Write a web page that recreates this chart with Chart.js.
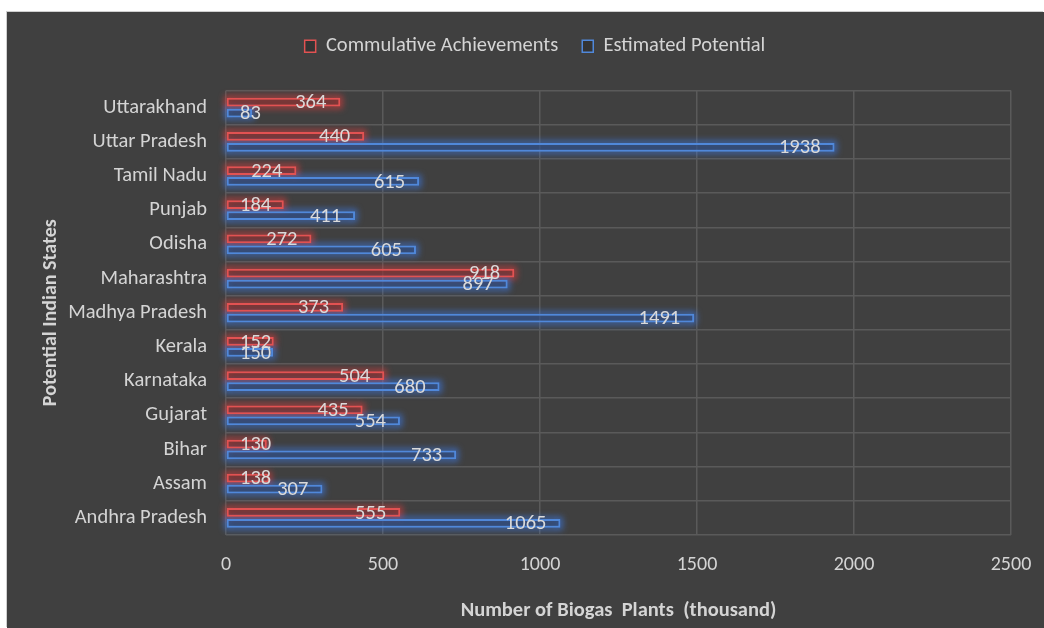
<!DOCTYPE html>
<html>
<head>
<meta charset="utf-8">
<script src="https://cdn.jsdelivr.net/npm/chart.js@4.4.1/dist/chart.umd.min.js"></script>
<style>
  html, body { margin: 0; padding: 0; background: #ffffff; }
  #panel {
    position: absolute; left: 7px; top: 12px; width: 1037px; height: 616px;
    background: #404040; box-shadow: -1px -1px 0 #cfcfcf;
  }
</style>
</head>
<body>
<div id="panel"><canvas id="myChart" width="1037" height="616"></canvas></div>
<script>
const states = ["Uttarakhand", "Uttar Pradesh", "Tamil Nadu", "Punjab", "Odisha", "Maharashtra",
  "Madhya Pradesh", "Kerala", "Karnataka", "Gujarat", "Bihar", "Assam", "Andhra Pradesh"];
const achievements = [364, 440, 224, 184, 272, 918, 373, 152, 504, 435, 130, 138, 555];
const potential = [83, 1938, 615, 411, 605, 897, 1491, 150, 680, 554, 733, 307, 1065];
const xTicks = [0, 500, 1000, 1500, 2000, 2500];

const fontFamily = "Carlito, Lato, 'Liberation Sans', sans-serif";
const textColor = "#d4d4d4";
const glowColors = ["rgba(235,60,60,0.75)", "rgba(60,125,240,0.75)"];

// legend: extra room below it and nudged right
const legendTweak = {
  id: "legendTweak",
  afterInit(chart) {
    const legend = chart.legend;
    const fit = legend.fit;
    const draw = legend.draw;
    legend.fit = function () {
      fit.call(this);
      this.height += 24;
    };
    legend.draw = function () {
      this.ctx.save();
      this.ctx.translate(26, 0);
      draw.call(this);
      this.ctx.restore();
    };
  }
};

// soft glow round each bar, painted under the bars
const glowPlugin = {
  id: "glow",
  beforeDatasetsDraw(chart) {
    const ctx = chart.ctx;
    ctx.save();
    ctx.filter = "blur(3px)";
    ctx.lineWidth = 4;
    chart.data.datasets.forEach((ds, i) => {
      ctx.strokeStyle = glowColors[i];
      chart.getDatasetMeta(i).data.forEach(bar => {
        const h = bar.height;
        ctx.strokeRect(bar.base, bar.y - h / 2, bar.x - bar.base, h);
      });
    });
    ctx.restore();
  }
};

// value labels inside the end of each bar
const valueLabels = {
  id: "valueLabels",
  afterDatasetsDraw(chart) {
    const ctx = chart.ctx;
    const left = chart.scales.x.left;
    ctx.save();
    ctx.font = "20.5px " + fontFamily;
    ctx.fillStyle = "#dadada";
    ctx.textAlign = "right";
    ctx.textBaseline = "middle";
    chart.data.datasets.forEach((ds, i) => {
      chart.getDatasetMeta(i).data.forEach((bar, j) => {
        const txt = String(ds.data[j]);
        const w = ctx.measureText(txt).width;
        const x = Math.max(bar.x - 14, left + 14 + w);
        ctx.fillText(txt, x, bar.y + 1);
      });
    });
    ctx.restore();
  }
};

const ctx = document.querySelector("#myChart").getContext("2d");

const myChart = new Chart(ctx, {
  type: "bar",
  data: {
    labels: states,
    datasets: [
      {
        label: "Commulative Achievements",
        data: achievements,
        backgroundColor: "rgba(120,50,50,0.55)",
        borderColor: "#e25252",
        borderWidth: 2,
        borderSkipped: false
      },
      {
        label: "Estimated Potential",
        data: potential,
        backgroundColor: "rgba(45,70,115,0.55)",
        borderColor: "#5088da",
        borderWidth: 2,
        borderSkipped: false
      }
    ]
  },
  options: {
    indexAxis: "y",
    responsive: false,
    animation: false,
    datasets: { bar: { categoryPercentage: 0.64, barPercentage: 0.8 } },
    layout: { padding: { left: 0, right: 33, top: 0, bottom: 0 } },
    plugins: {
      tooltip: { enabled: false },
      legend: {
        position: "top",
        labels: {
          color: textColor,
          font: { family: fontFamily, size: 20.5 },
          boxWidth: 11,
          boxHeight: 12,
          padding: 24,
          generateLabels(chart) {
            return chart.data.datasets.map((ds, i) => ({
              text: ds.label,
              fillStyle: "rgba(40,40,40,0.5)",
              strokeStyle: ds.borderColor,
              lineWidth: 1.5,
              fontColor: textColor,
              datasetIndex: i
            }));
          }
        }
      }
    },
    scales: {
      x: {
        min: 0,
        max: 2500,
        afterBuildTicks(axis) {
          axis.ticks = xTicks.map(v => ({ value: v }));
        },
        afterFit(axis) {
          axis.height = 93;
          axis.paddingRight = 0;
        },
        grid: { color: "#5a5a5a", lineWidth: 1.5, drawTicks: false },
        border: { display: false },
        ticks: {
          color: textColor,
          font: { family: fontFamily, size: 20 },
          padding: 18,
          callback: v => String(v)
        },
        title: {
          display: true,
          text: "Number of Biogas  Plants  (thousand)",
          color: textColor,
          font: { family: fontFamily, size: 20.5, weight: "bold" },
          padding: { top: 0, bottom: 5 }
        }
      },
      y: {
        afterFit(axis) {
          axis.width = 219;
        },
        grid: { color: "#5a5a5a", lineWidth: 1.5, drawTicks: false },
        border: { display: false },
        ticks: { color: textColor, font: { family: fontFamily, size: 20.5 }, padding: 19 },
        title: {
          display: true,
          text: "Potential Indian States",
          color: textColor,
          font: { family: fontFamily, size: 20, weight: "bold" },
          padding: { top: 32, bottom: 0 }
        }
      }
    }
  },
  plugins: [legendTweak, glowPlugin, valueLabels]
});
</script>
</body>
</html>
